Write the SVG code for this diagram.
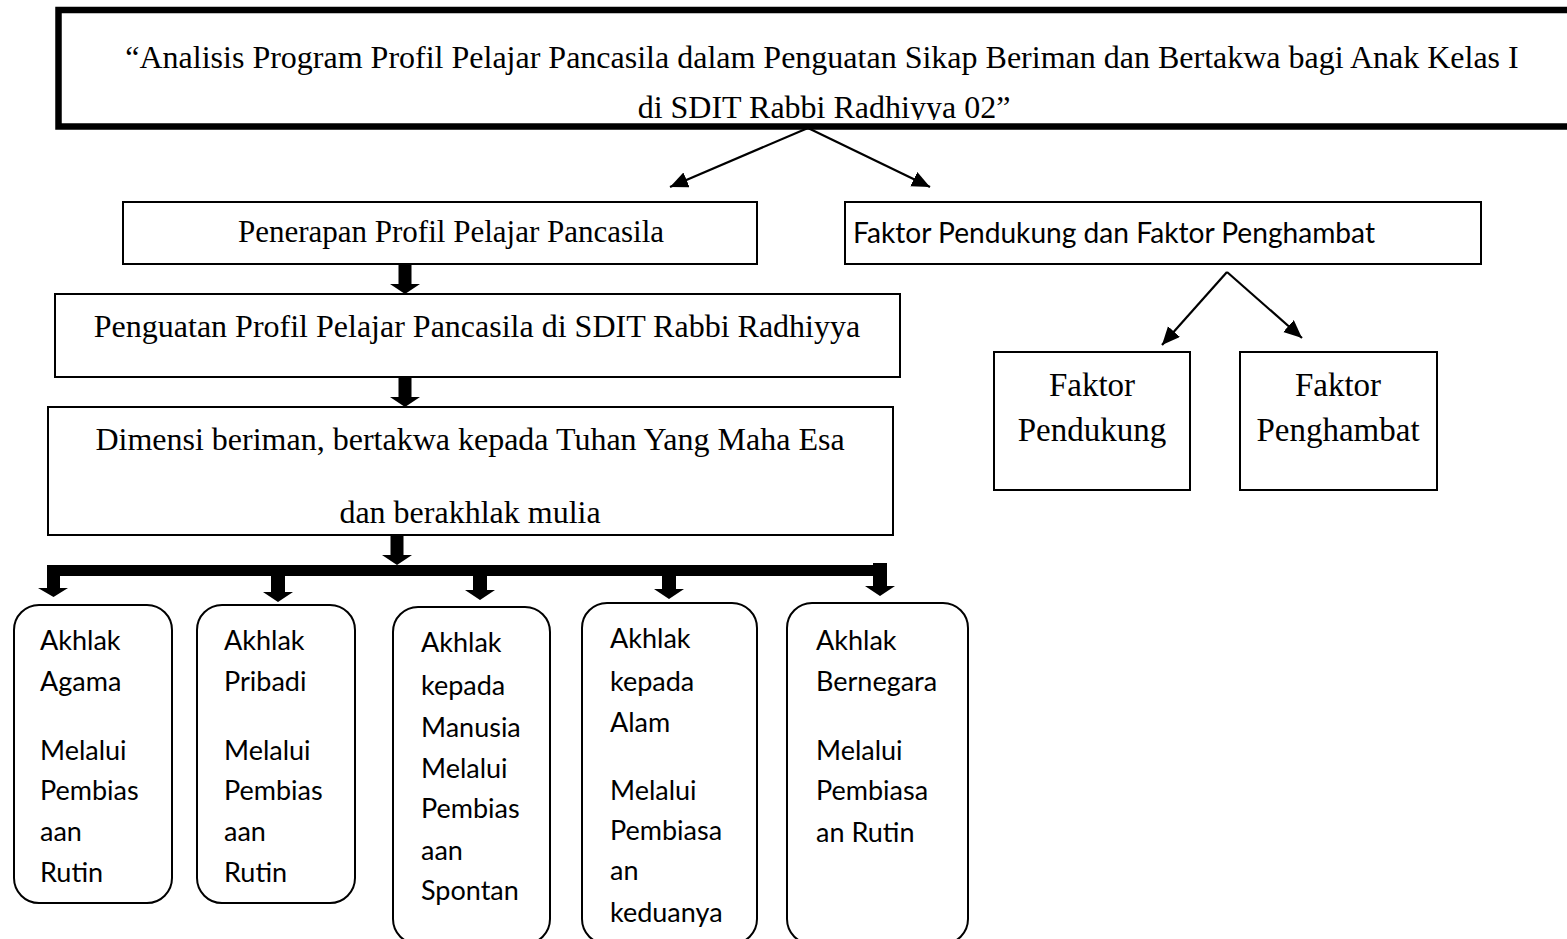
<svg xmlns="http://www.w3.org/2000/svg" width="1567" height="939" viewBox="0 0 1567 939">
<style>
.serif{font-family:"Liberation Serif","Times New Roman",serif;fill:#000}
.sans{font-family:Lato,"Liberation Sans",sans-serif;fill:#000}
.box{fill:#fff;stroke:#000;stroke-width:2}
.rbox{fill:#fff;stroke:#000;stroke-width:2}
.thin{stroke:#000;stroke-width:2.2;fill:none}
.thick{fill:#000}
</style>
<defs>
<marker id="ah" markerUnits="userSpaceOnUse" markerWidth="20" markerHeight="18" refX="18" refY="8" orient="auto">
<path d="M0,0 L18,8 L0,16 Z" fill="#000"/>
</marker>
<clipPath id="titleclip"><rect x="0" y="0" width="1567" height="120"/></clipPath>
</defs>
<rect width="1567" height="939" fill="#fff"/>

<g id="title">
<rect x="58.5" y="10" width="1530" height="116.5" fill="#fff" stroke="#000" stroke-width="6.5"/>
<g clip-path="url(#titleclip)">
<text class="serif" x="822" y="68" font-size="32" text-anchor="middle">“Analisis Program Profil Pelajar Pancasila dalam Penguatan Sikap Beriman dan Bertakwa bagi Anak Kelas I</text>
<text class="serif" x="824" y="118" font-size="32" text-anchor="middle">di SDIT Rabbi Radhiyya 02”</text>
</g>
</g>

<g id="connectors">
<line class="thin" x1="808" y1="128" x2="670" y2="187" marker-end="url(#ah)"/>
<line class="thin" x1="808" y1="128" x2="930" y2="187" marker-end="url(#ah)"/>
<line class="thin" x1="1227" y1="272" x2="1162" y2="345" marker-end="url(#ah)"/>
<line class="thin" x1="1227" y1="272" x2="1302" y2="338" marker-end="url(#ah)"/>
<path class="thick" d="M398.5,264 H411.5 V284 H420 L405,294 L390,284 H398.5 Z"/>
<path class="thick" d="M398.5,377 H411.5 V397 H420 L405,407 L390,397 H398.5 Z"/>
<path class="thick" d="M390.5,535 H403.5 V555 H412 L397,565 L382,555 H390.5 Z"/>
<rect class="thick" x="47" y="565" width="840" height="11"/>
<path class="thick" d="M47,565 H60 V588 H68 L53.5,597 L38,588 H47 Z"/>
<path class="thick" d="M271,570 H285 V592 H293 L278,602 L263,592 H271 Z"/>
<path class="thick" d="M473,570 H487 V590 H495 L480,600 L465,590 H473 Z"/>
<path class="thick" d="M662,570 H676 V589 H684 L669,599 L654,589 H662 Z"/>
<path class="thick" d="M873,563 H887 V586 H895 L880,596 L865,586 H873 Z"/>
</g>

<g id="penerapan">
<rect class="box" x="123" y="202" width="634" height="62"/>
<text class="serif" x="451" y="242" font-size="31" text-anchor="middle">Penerapan Profil Pelajar Pancasila</text>
</g>

<g id="faktor">
<rect class="box" x="845" y="202" width="636" height="62"/>
<text class="sans" x="853" y="243" font-size="29" textLength="522" lengthAdjust="spacingAndGlyphs">Faktor Pendukung dan Faktor Penghambat</text>
</g>

<g id="penguatan">
<rect class="box" x="55" y="294" width="845" height="83"/>
<text class="serif" x="477" y="337" font-size="32" text-anchor="middle">Penguatan Profil Pelajar Pancasila di SDIT Rabbi Radhiyya</text>
</g>

<g id="dimensi">
<rect class="box" x="48" y="407" width="845" height="128"/>
<text class="serif" x="470" y="450" font-size="32" text-anchor="middle">Dimensi beriman, bertakwa kepada Tuhan Yang Maha Esa</text>
<text class="serif" x="470" y="523" font-size="32" text-anchor="middle">dan berakhlak mulia</text>
</g>

<g id="faktor-pendukung">
<rect class="box" x="994" y="352" width="196" height="138"/>
<text class="serif" x="1092" y="396" font-size="33" text-anchor="middle">Faktor</text>
<text class="serif" x="1092" y="441" font-size="33" text-anchor="middle">Pendukung</text>
</g>

<g id="faktor-penghambat">
<rect class="box" x="1240" y="352" width="197" height="138"/>
<text class="serif" x="1338" y="396" font-size="33" text-anchor="middle">Faktor</text>
<text class="serif" x="1338" y="441" font-size="33" text-anchor="middle">Penghambat</text>
</g>

<g id="akhlak-agama">
<rect class="rbox" x="14" y="605" width="158" height="298" rx="25"/>
<text class="sans" font-size="27"><tspan x="40" y="650">Akhlak</tspan><tspan x="40" y="691">Agama</tspan><tspan x="40" y="760">Melalui</tspan><tspan x="40" y="800">Pembias</tspan><tspan x="40" y="841">aan</tspan><tspan x="40" y="882">Rutin</tspan></text>
</g>

<g id="akhlak-pribadi">
<rect class="rbox" x="197" y="605" width="158" height="298" rx="25"/>
<text class="sans" font-size="27"><tspan x="224" y="650">Akhlak</tspan><tspan x="224" y="691">Pribadi</tspan><tspan x="224" y="760">Melalui</tspan><tspan x="224" y="800">Pembias</tspan><tspan x="224" y="841">aan</tspan><tspan x="224" y="882">Rutin</tspan></text>
</g>

<g id="akhlak-manusia">
<rect class="rbox" x="393" y="607" width="157" height="337" rx="25"/>
<text class="sans" font-size="27"><tspan x="421" y="652">Akhlak</tspan><tspan x="421" y="695">kepada</tspan><tspan x="421" y="737">Manusia</tspan><tspan x="421" y="778">Melalui</tspan><tspan x="421" y="818">Pembias</tspan><tspan x="421" y="860">aan</tspan><tspan x="421" y="900">Spontan</tspan></text>
</g>

<g id="akhlak-alam">
<rect class="rbox" x="582" y="603" width="175" height="341" rx="25"/>
<text class="sans" font-size="27"><tspan x="610" y="648">Akhlak</tspan><tspan x="610" y="691">kepada</tspan><tspan x="610" y="732">Alam</tspan><tspan x="610" y="800">Melalui</tspan><tspan x="610" y="840">Pembiasa</tspan><tspan x="610" y="880">an</tspan><tspan x="610" y="922">keduanya</tspan></text>
</g>

<g id="akhlak-bernegara">
<rect class="rbox" x="787" y="603" width="181" height="341" rx="25"/>
<text class="sans" font-size="27"><tspan x="816" y="650">Akhlak</tspan><tspan x="816" y="691">Bernegara</tspan><tspan x="816" y="760">Melalui</tspan><tspan x="816" y="800">Pembiasa</tspan><tspan x="816" y="842">an Rutin</tspan></text>
</g>
</svg>
